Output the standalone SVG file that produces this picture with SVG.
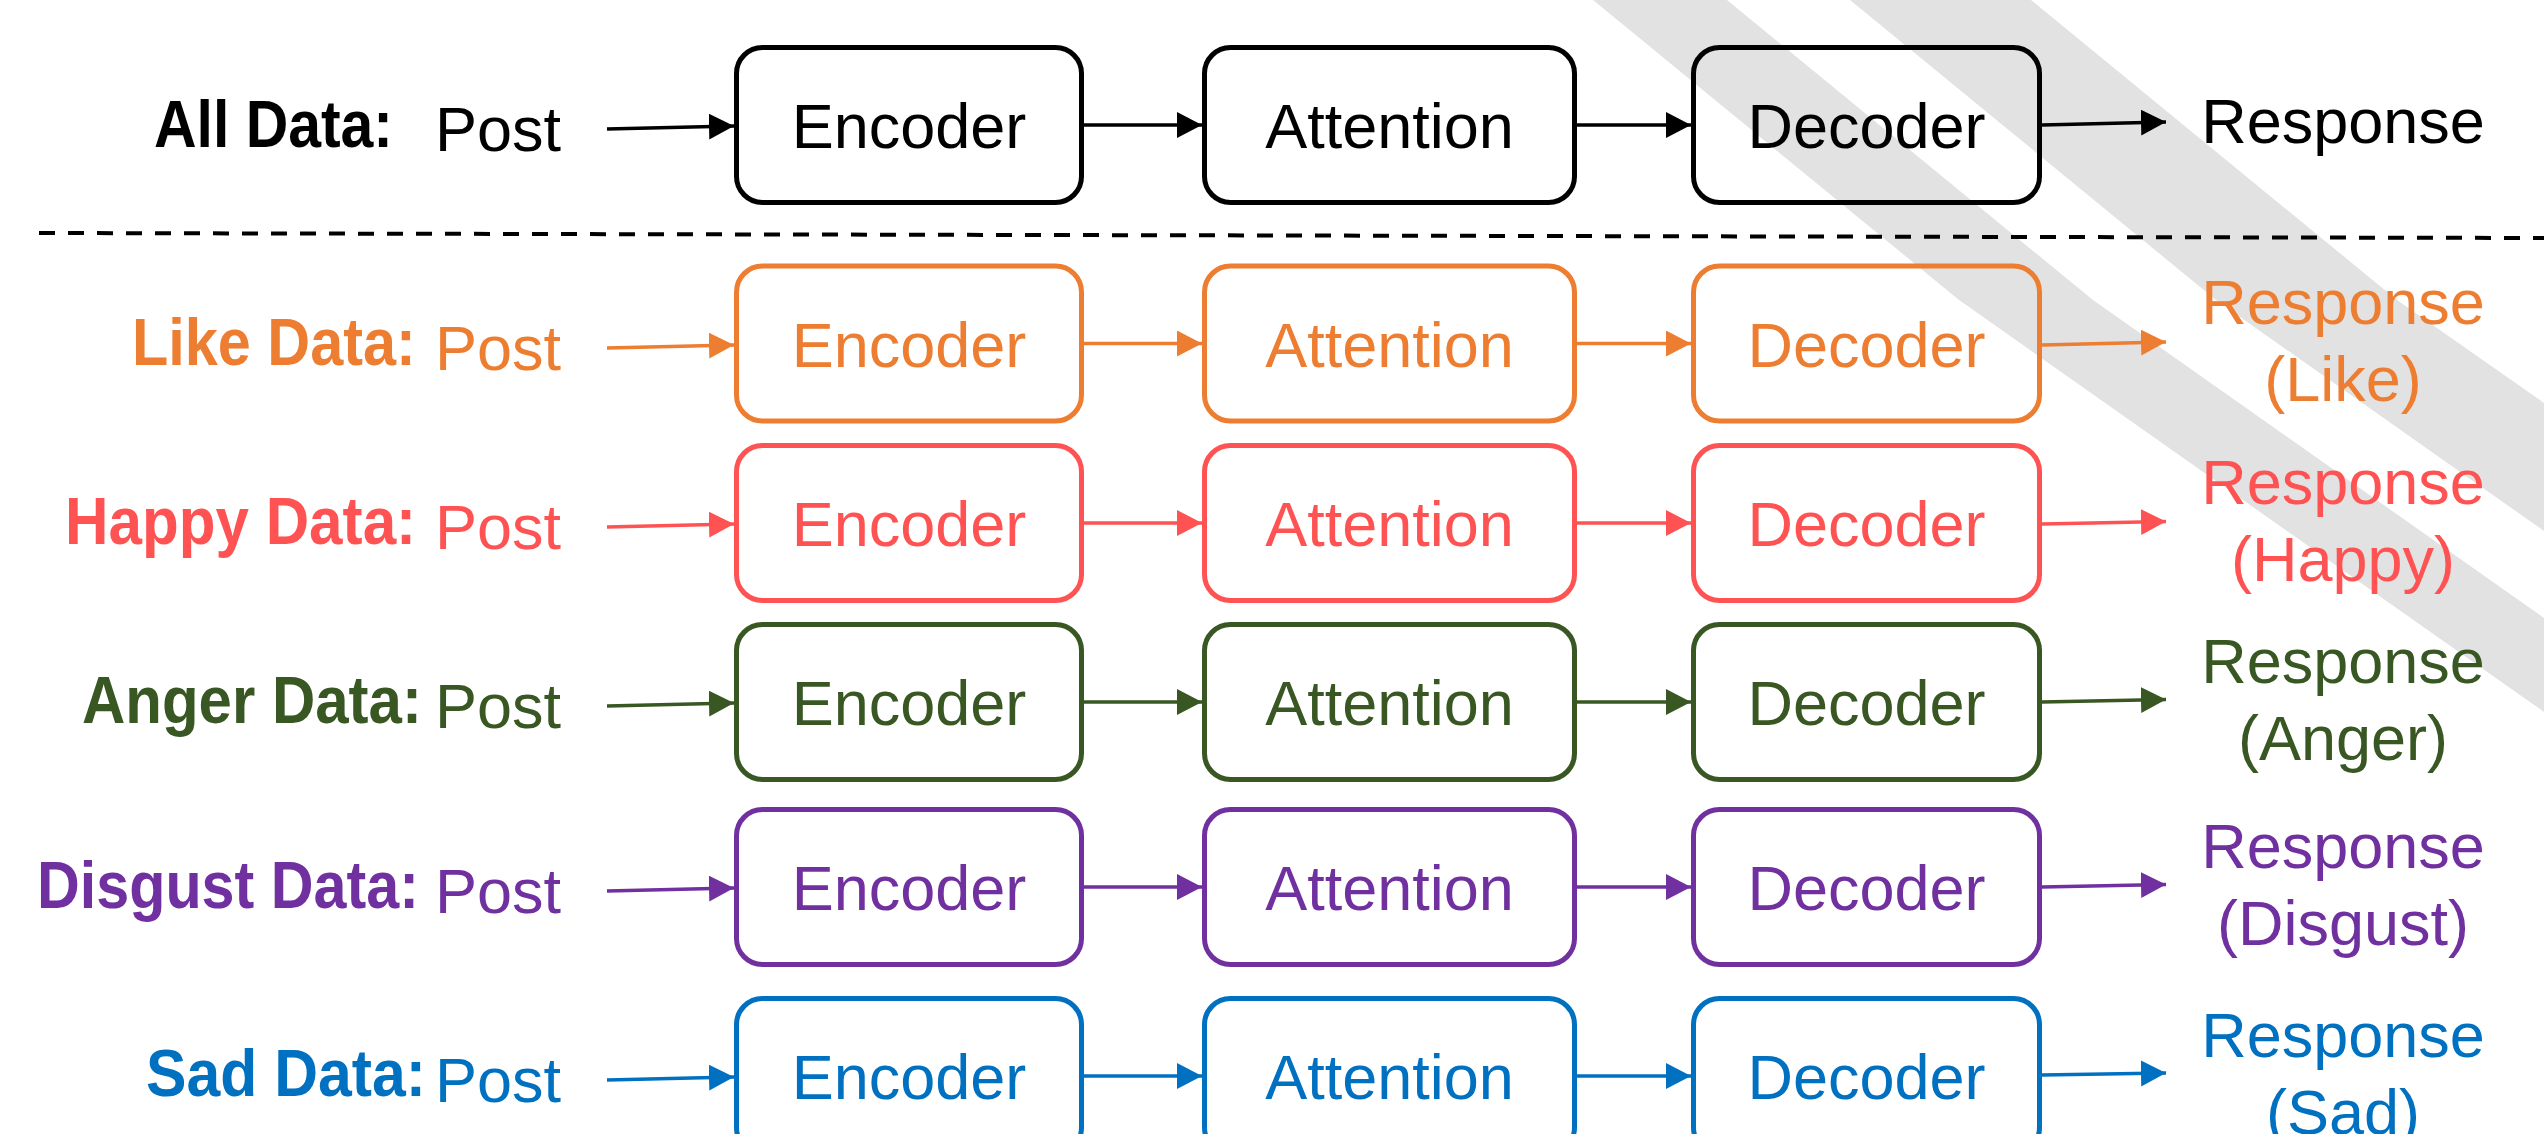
<svg xmlns="http://www.w3.org/2000/svg" width="2544" height="1134" viewBox="0 0 2544 1134">
<style>
.bg{fill:#e2e2e2}
.box{fill:none;stroke-width:5}
.ln{fill:none;stroke-width:3.5}
.t{font-family:"Liberation Sans",Arial,Helvetica,sans-serif;font-size:63px}
.m{text-anchor:middle}
.lbl{font-family:"Liberation Sans",Arial,Helvetica,sans-serif;font-size:66px;font-weight:bold}
</style>
<defs>
<marker id="ak" markerUnits="userSpaceOnUse" markerWidth="26" markerHeight="28" refX="25" refY="13" orient="auto"><path d="M0,0 L25,13 L0,26 z" fill="#000"/></marker>
<marker id="ao" markerUnits="userSpaceOnUse" markerWidth="26" markerHeight="28" refX="25" refY="13" orient="auto"><path d="M0,0 L25,13 L0,26 z" fill="#ED7D31"/></marker>
<marker id="ar" markerUnits="userSpaceOnUse" markerWidth="26" markerHeight="28" refX="25" refY="13" orient="auto"><path d="M0,0 L25,13 L0,26 z" fill="#FF5353"/></marker>
<marker id="ag" markerUnits="userSpaceOnUse" markerWidth="26" markerHeight="28" refX="25" refY="13" orient="auto"><path d="M0,0 L25,13 L0,26 z" fill="#385723"/></marker>
<marker id="ap" markerUnits="userSpaceOnUse" markerWidth="26" markerHeight="28" refX="25" refY="13" orient="auto"><path d="M0,0 L25,13 L0,26 z" fill="#7030A0"/></marker>
<marker id="ab" markerUnits="userSpaceOnUse" markerWidth="26" markerHeight="28" refX="25" refY="13" orient="auto"><path d="M0,0 L25,13 L0,26 z" fill="#0070C0"/></marker>
</defs>
<rect width="2544" height="1134" fill="#fff"/>
<g id="background">
<polygon class="bg" points="1593,0 1727,0 2093,300 2544,618 2544,712 1959,300"/>
<polygon class="bg" points="1850,0 2031,0 2397,300 2544,403 2544,531 2216,300"/>
</g>
<g id="separator">
<line x1="39" y1="233" x2="2544" y2="238" stroke="#000" stroke-width="4" stroke-dasharray="16 13"/>
</g>

<g id="row-all">
<text class="lbl" transform="translate(154,147) scale(0.893,1)" fill="#000">All Data:</text>
<text class="t" x="435" y="151" fill="#000">Post</text>
<g id="enc-all"><rect class="box" stroke="#000" x="736.5" y="47.5" width="345" height="155" rx="26"/><text class="t m" x="909" y="148" fill="#000">Encoder</text></g>
<g id="att-all"><rect class="box" stroke="#000" x="1204.5" y="47.5" width="370" height="155" rx="26"/><text class="t m" x="1389.5" y="148" fill="#000">Attention</text></g>
<g id="dec-all"><rect class="box" stroke="#000" x="1693.5" y="47.5" width="346" height="155" rx="26"/><text class="t m" x="1866.5" y="148" fill="#000">Decoder</text></g>
<text class="t m" x="2343" y="143" fill="#000">Response</text>
</g>

<g id="row-like">
<text class="lbl" transform="translate(132,365) scale(0.9,1)" fill="#ED7D31">Like Data:</text>
<text class="t" x="435" y="369.5" fill="#ED7D31">Post</text>
<g id="enc-like"><rect class="box" stroke="#ED7D31" x="736.5" y="266" width="345" height="155" rx="26"/><text class="t m" x="909" y="366.5" fill="#ED7D31">Encoder</text></g>
<g id="att-like"><rect class="box" stroke="#ED7D31" x="1204.5" y="266" width="370" height="155" rx="26"/><text class="t m" x="1389.5" y="366.5" fill="#ED7D31">Attention</text></g>
<g id="dec-like"><rect class="box" stroke="#ED7D31" x="1693.5" y="266" width="346" height="155" rx="26"/><text class="t m" x="1866.5" y="366.5" fill="#ED7D31">Decoder</text></g>
<text class="t m" x="2343" y="324" fill="#ED7D31">Response</text>
<text class="t m" x="2343" y="401" fill="#ED7D31">(Like)</text>
</g>

<g id="row-happy">
<text class="lbl" transform="translate(65,544) scale(0.912,1)" fill="#FF5353">Happy Data:</text>
<text class="t" x="435" y="549" fill="#FF5353">Post</text>
<g id="enc-happy"><rect class="box" stroke="#FF5353" x="736.5" y="445.5" width="345" height="155" rx="26"/><text class="t m" x="909" y="546" fill="#FF5353">Encoder</text></g>
<g id="att-happy"><rect class="box" stroke="#FF5353" x="1204.5" y="445.5" width="370" height="155" rx="26"/><text class="t m" x="1389.5" y="546" fill="#FF5353">Attention</text></g>
<g id="dec-happy"><rect class="box" stroke="#FF5353" x="1693.5" y="445.5" width="346" height="155" rx="26"/><text class="t m" x="1866.5" y="546" fill="#FF5353">Decoder</text></g>
<text class="t m" x="2343" y="503.5" fill="#FF5353">Response</text>
<text class="t m" x="2343" y="580.5" fill="#FF5353">(Happy)</text>
</g>

<g id="row-anger">
<text class="lbl" transform="translate(82,723) scale(0.909,1)" fill="#385723">Anger Data:</text>
<text class="t" x="435" y="728" fill="#385723">Post</text>
<g id="enc-anger"><rect class="box" stroke="#385723" x="736.5" y="624.5" width="345" height="155" rx="26"/><text class="t m" x="909" y="725" fill="#385723">Encoder</text></g>
<g id="att-anger"><rect class="box" stroke="#385723" x="1204.5" y="624.5" width="370" height="155" rx="26"/><text class="t m" x="1389.5" y="725" fill="#385723">Attention</text></g>
<g id="dec-anger"><rect class="box" stroke="#385723" x="1693.5" y="624.5" width="346" height="155" rx="26"/><text class="t m" x="1866.5" y="725" fill="#385723">Decoder</text></g>
<text class="t m" x="2343" y="682.5" fill="#385723">Response</text>
<text class="t m" x="2343" y="759.5" fill="#385723">(Anger)</text>
</g>

<g id="row-disgust">
<text class="lbl" transform="translate(37,908) scale(0.898,1)" fill="#7030A0">Disgust Data:</text>
<text class="t" x="435" y="913" fill="#7030A0">Post</text>
<g id="enc-disgust"><rect class="box" stroke="#7030A0" x="736.5" y="809.5" width="345" height="155" rx="26"/><text class="t m" x="909" y="910" fill="#7030A0">Encoder</text></g>
<g id="att-disgust"><rect class="box" stroke="#7030A0" x="1204.5" y="809.5" width="370" height="155" rx="26"/><text class="t m" x="1389.5" y="910" fill="#7030A0">Attention</text></g>
<g id="dec-disgust"><rect class="box" stroke="#7030A0" x="1693.5" y="809.5" width="346" height="155" rx="26"/><text class="t m" x="1866.5" y="910" fill="#7030A0">Decoder</text></g>
<text class="t m" x="2343" y="867.5" fill="#7030A0">Response</text>
<text class="t m" x="2343" y="944.5" fill="#7030A0">(Disgust)</text>
</g>

<g id="row-sad">
<text class="lbl" transform="translate(146,1096) scale(0.92,1)" fill="#0070C0">Sad Data:</text>
<text class="t" x="435" y="1102" fill="#0070C0">Post</text>
<g id="enc-sad"><rect class="box" stroke="#0070C0" x="736.5" y="998.5" width="345" height="155" rx="26"/><text class="t m" x="909" y="1099" fill="#0070C0">Encoder</text></g>
<g id="att-sad"><rect class="box" stroke="#0070C0" x="1204.5" y="998.5" width="370" height="155" rx="26"/><text class="t m" x="1389.5" y="1099" fill="#0070C0">Attention</text></g>
<g id="dec-sad"><rect class="box" stroke="#0070C0" x="1693.5" y="998.5" width="346" height="155" rx="26"/><text class="t m" x="1866.5" y="1099" fill="#0070C0">Decoder</text></g>
<text class="t m" x="2343" y="1056.5" fill="#0070C0">Response</text>
<text class="t m" x="2343" y="1133.5" fill="#0070C0">(Sad)</text>
</g>

<g id="connectors" class="ln">
<g stroke="#000" marker-end="url(#ak)">
<line x1="607" y1="129" x2="734" y2="126"/>
<line x1="1084" y1="125" x2="1202" y2="125"/>
<line x1="1577" y1="125" x2="1691" y2="125"/>
<line x1="2042" y1="125" x2="2166" y2="122"/>
</g>
<g stroke="#ED7D31" marker-end="url(#ao)">
<line x1="607" y1="348" x2="734" y2="345"/>
<line x1="1084" y1="343.5" x2="1202" y2="343.5"/>
<line x1="1577" y1="343.5" x2="1691" y2="343.5"/>
<line x1="2042" y1="345" x2="2166" y2="342"/>
</g>
<g stroke="#FF5353" marker-end="url(#ar)">
<line x1="607" y1="527" x2="734" y2="524"/>
<line x1="1084" y1="523" x2="1202" y2="523"/>
<line x1="1577" y1="523" x2="1691" y2="523"/>
<line x1="2042" y1="524" x2="2166" y2="521.5"/>
</g>
<g stroke="#385723" marker-end="url(#ag)">
<line x1="607" y1="706" x2="734" y2="703"/>
<line x1="1084" y1="702" x2="1202" y2="702"/>
<line x1="1577" y1="702" x2="1691" y2="702"/>
<line x1="2042" y1="702" x2="2166" y2="699.5"/>
</g>
<g stroke="#7030A0" marker-end="url(#ap)">
<line x1="607" y1="891" x2="734" y2="888"/>
<line x1="1084" y1="887" x2="1202" y2="887"/>
<line x1="1577" y1="887" x2="1691" y2="887"/>
<line x1="2042" y1="887" x2="2166" y2="884.5"/>
</g>
<g stroke="#0070C0" marker-end="url(#ab)">
<line x1="607" y1="1080" x2="734" y2="1077"/>
<line x1="1084" y1="1076" x2="1202" y2="1076"/>
<line x1="1577" y1="1076" x2="1691" y2="1076"/>
<line x1="2042" y1="1075" x2="2166" y2="1073"/>
</g>
</g>
</svg>
